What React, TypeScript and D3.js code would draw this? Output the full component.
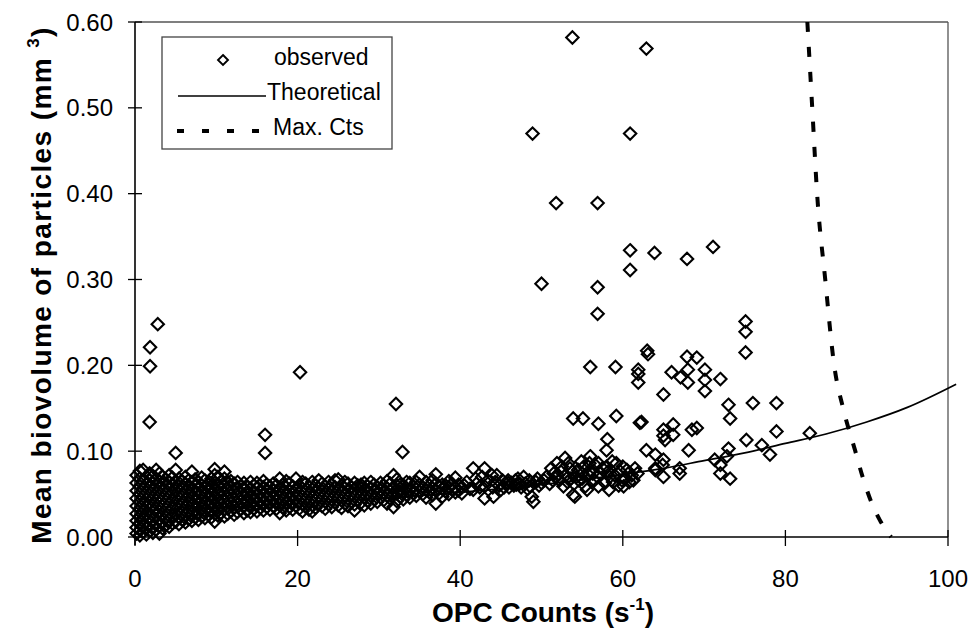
import React from 'react';
import * as d3 from 'd3';

// ---------- data ----------
const xTicks = [0, 20, 40, 60, 80, 100];
const yTicks = [0, 0.1, 0.2, 0.3, 0.4, 0.5, 0.6];
const yTickLabels = ['0.00', '0.10', '0.20', '0.30', '0.40', '0.50', '0.60'];
const xTickLabels = ['0', '20', '40', '60', '80', '100'];

const clusterColumns: [number, number[]][] = [
  [0.2, [.004, .011, .019, .027, .036, .045, .054, .063, .072]],
  [0.6, [.002, .008, .016, .024, .033, .041, .05, .059, .068, .077]],
  [1.0, [.006, .014, .022, .03, .039, .047, .056, .065, .078]],
  [1.4, [.003, .01, .018, .027, .035, .044, .052, .061, .07]],
  [1.8, [.007, .015, .023, .032, .04, .049, .058, .066, .074]],
  [2.2, [.005, .012, .02, .029, .037, .046, .055, .063, .071]],
  [2.6, [.009, .017, .026, .034, .043, .051, .06, .068, .078]],
  [3.0, [.004, .013, .021, .03, .039, .048, .057, .065, .074]],
  [3.4, [.01, .018, .027, .036, .045, .054, .062, .07]],
  [3.8, [.014, .023, .032, .041, .05, .059, .067]],
  [4.2, [.012, .02, .029, .038, .047, .056, .064, .072]],
  [4.6, [.016, .025, .034, .043, .052, .061, .069]],
  [5.0, [.018, .027, .036, .045, .054, .063, .078]],
  [5.4, [.015, .023, .032, .041, .05, .059, .068]],
  [5.8, [.02, .029, .038, .047, .056, .065]],
  [6.2, [.017, .026, .035, .044, .053, .062, .07]],
  [6.6, [.021, .03, .039, .048, .057, .066]],
  [7.0, [.019, .028, .037, .046, .055, .064, .076]],
  [7.4, [.023, .032, .041, .05, .059, .067]],
  [7.8, [.02, .029, .038, .047, .056, .064]],
  [8.2, [.024, .033, .042, .051, .06, .069]],
  [8.6, [.022, .031, .04, .049, .058, .066]],
  [9.0, [.026, .035, .044, .053, .061]],
  [9.4, [.023, .032, .041, .05, .059, .068]],
  [9.8, [.018, .027, .036, .045, .054, .063, .072, .079]],
  [10.2, [.025, .034, .043, .052, .061, .07]],
  [10.6, [.028, .037, .046, .055, .064]],
  [11.0, [.024, .033, .042, .051, .06, .068, .076]],
  [11.4, [.027, .036, .045, .054, .063]],
  [11.8, [.03, .039, .048, .057, .065]],
  [12.2, [.026, .035, .044, .053, .062]],
  [12.6, [.029, .038, .047, .056, .064]],
  [13.0, [.032, .041, .05, .059]],
  [13.4, [.028, .037, .046, .055, .063]],
  [13.8, [.031, .04, .049, .058]],
  [14.2, [.029, .038, .047, .056, .064]],
  [14.6, [.033, .042, .051, .06]],
  [15.0, [.03, .039, .048, .057, .063]],
  [15.4, [.034, .043, .052, .06]],
  [15.8, [.031, .04, .049, .058, .065]],
  [16.2, [.035, .044, .053, .061]],
  [16.6, [.032, .041, .05, .059]],
  [17.0, [.036, .045, .054, .062]],
  [17.4, [.033, .042, .051, .06]],
  [17.8, [.028, .037, .046, .055, .068]],
  [18.2, [.034, .043, .052, .061]],
  [18.6, [.031, .04, .049, .058, .065]],
  [19.0, [.035, .044, .053, .062]],
  [19.4, [.032, .041, .05, .059]],
  [19.8, [.036, .045, .054, .068]],
  [20.2, [.033, .042, .051, .06]],
  [20.6, [.03, .038, .047, .056, .064]],
  [21.0, [.035, .044, .053, .062]],
  [21.4, [.032, .041, .05, .059]],
  [21.8, [.03, .037, .046, .055, .064]],
  [22.2, [.034, .043, .052, .06]],
  [22.6, [.039, .048, .057, .066]],
  [23.0, [.036, .045, .054, .062]],
  [23.4, [.033, .041, .05, .059]],
  [23.8, [.038, .047, .056, .064]],
  [24.2, [.035, .044, .053, .061]],
  [24.6, [.04, .049, .058, .066]],
  [25.0, [.037, .046, .055, .067]],
  [25.4, [.034, .043, .052, .06]],
  [25.8, [.039, .048, .057, .064]],
  [26.2, [.036, .045, .054, .062]],
  [26.6, [.041, .05, .058]],
  [27.0, [.031, .038, .047, .056, .063]],
  [27.4, [.043, .052, .06]],
  [27.8, [.04, .049, .058, .061]],
  [28.2, [.037, .046, .055, .063]],
  [28.6, [.042, .051, .059]],
  [29.0, [.039, .048, .057, .064]],
  [29.4, [.044, .053, .061]],
  [29.8, [.041, .05, .058]],
  [30.2, [.046, .055, .063]],
  [30.6, [.043, .052, .06]],
  [31.0, [.039, .048, .057, .065]],
  [31.4, [.045, .054, .062]],
  [31.8, [.035, .05, .058, .072]],
  [32.2, [.042, .051, .06, .067]],
  [32.6, [.047, .053, .061]],
  [33.0, [.044, .052, .06]],
  [33.4, [.049, .057, .064]],
  [33.8, [.046, .055, .063]],
  [34.2, [.051, .059]],
  [34.6, [.048, .056, .064]],
  [35.0, [.053, .061, .07]],
  [35.4, [.05, .058]],
  [35.8, [.046, .055, .064]],
  [36.2, [.052, .06]],
  [36.6, [.049, .057, .066]],
  [37.0, [.039, .054, .062, .073]],
  [37.4, [.051, .059]],
  [37.8, [.047, .056, .061]],
  [38.2, [.053, .06]],
  [38.6, [.05, .058, .065]],
  [39.0, [.055, .062]],
  [39.4, [.052, .057, .069]],
  [39.8, [.054, .061]],
  [40.2, [.051, .058]],
];

// individually visible observations [count, biovolume]
const observedPoints: [number, number][] = [
  // left outliers
  [1.85, .221], [1.85, .199], [2.8, .248], [1.8, .134], [5.0, .098],
  [16.0, .119], [16.0, .098], [20.3, .192], [32.1, .155], [32.9, .099],
  // 40-50
  [40.5, .060], [40.8, .064], [41.2, .056], [41.6, .080], [41.6, .055], [41.9, .068],
  [42.0, .062], [42.4, .058], [42.7, .070], [43.0, .080], [43.0, .059], [43.0, .045],
  [43.4, .066], [43.9, .072], [44.0, .058], [44.1, .047], [44.3, .064], [44.5, .072],
  [44.8, .060], [45.0, .055], [45.2, .066], [45.4, .058], [45.9, .063], [45.9, .066],
  [46.0, .058], [46.3, .063], [46.6, .060], [46.8, .066], [46.9, .061], [47.1, .068],
  [47.3, .062], [47.5, .058], [47.8, .070], [48.0, .062], [48.3, .056], [48.5, .066],
  [48.6, .059], [48.8, .047], [49.0, .041], [49.3, .064], [49.5, .068], [49.7, .060],
  [50.0, .063],
  // 50-62 cluster
  [50.3, .066], [50.6, .070], [51.0, .062], [51.4, .066], [51.5, .074], [51.8, .070],
  [51.9, .086], [52.0, .072], [52.5, .082], [52.9, .092], [53.3, .086], [53.5, .080],
  [53.6, .068], [53.8, .076], [54.3, .070], [54.6, .066], [54.9, .088], [55.0, .074],
  [55.2, .082], [55.9, .086], [56.0, .078], [56.3, .074], [56.9, .070], [57.0, .086],
  [57.2, .074], [57.5, .080], [58.0, .082], [58.2, .076], [58.4, .070], [58.7, .088],
  [59.0, .072], [59.2, .086], [59.7, .076], [59.9, .066], [60.3, .068], [60.5, .078],
  [61.1, .072], [61.3, .066], [61.8, .074], [60.1, .059], [57.8, .063], [57.0, .059],
  [55.4, .059], [52.7, .059], [53.9, .049], [52.2, .066], [53.0, .072], [54.0, .062],
  [55.0, .068], [55.8, .072], [56.5, .066], [58.8, .064], [59.5, .060], [60.8, .064],
  [61.5, .080], [60.0, .082], [56.6, .084], [54.5, .078], [52.4, .076], [51.2, .080],
  [53.2, .064], [55.6, .055], [58.3, .055], [54.1, .047],
  // mid range 0.07-0.17
  [53.9, .138], [55.1, .138], [57.0, .132], [59.2, .141], [62.1, .133], [62.3, .134],
  [58.1, .114], [58.0, .101], [56.0, .094], [62.9, .101], [64.0, .096], [65.0, .090],
  [64.0, .080], [65.0, .070], [64.9, .084], [64.0, .078], [65.0, .125], [66.2, .131],
  [66.2, .119], [65.0, .118], [65.2, .113], [68.5, .125], [69.1, .127], [68.1, .101],
  [67.0, .080], [67.0, .074], [71.3, .090], [72.0, .084], [72.0, .074], [73.0, .103],
  [73.2, .068], [72.8, .094], [75.2, .113], [77.1, .107], [78.1, .096], [76.0, .156],
  [78.9, .156], [78.9, .123], [83.0, .121], [73.0, .154], [73.2, .138], [65.0, .166],
  // upper cloud
  [53.8, .582], [62.9, .569], [48.9, .470], [60.9, .470], [51.8, .389], [56.9, .389],
  [60.9, .334], [63.9, .331], [67.9, .324], [71.1, .338], [60.9, .311], [50.0, .295],
  [56.9, .291], [56.9, .260], [75.1, .251], [75.1, .239], [75.1, .215], [63.0, .217],
  [63.1, .213], [56.0, .198], [59.1, .198], [61.9, .195], [61.9, .190], [61.9, .180],
  [67.9, .210], [69.1, .209], [66.0, .192], [68.0, .195], [70.1, .195], [67.1, .186],
  [68.0, .180], [70.1, .183], [72.0, .184], [70.1, .170],
];

const theoreticalX = [0, 10, 20, 30, 40, 50, 60, 65, 70, 75, 80, 85, 90, 95, 101];
const theoreticalY = [0.030, 0.034, 0.039, 0.045, 0.052, 0.061, 0.073, 0.080, 0.089, 0.098, 0.109, 0.120, 0.134, 0.151, 0.178];

const maxCtsX = [82.7, 83.3, 83.9, 84.9, 86.0, 87.1, 88.6, 89.5, 90.6, 91.6, 93.0];
const maxCtsY = [0.60, 0.50, 0.40, 0.30, 0.20, 0.15, 0.10, 0.07, 0.04, 0.02, 0.0];

const legendLabels = ['observed', 'Theoretical', 'Max. Cts'];

// ---------- chart ----------
const FONT = "'Liberation Sans', Arial, sans-serif";

function diamond(cx: number, cy: number, r: number) {
  return `M${cx},${cy - r}L${cx + r},${cy}L${cx},${cy + r}L${cx - r},${cy}Z`;
}

export default function App() {
  const x = d3.scaleLinear().domain([0, 100]).range([135, 948]);
  const y = d3.scaleLinear().domain([0, 0.6]).range([537, 22]);

  const observed: [number, number][] = [
    ...clusterColumns.flatMap(([cx, ys]) => ys.map((v) => [cx, v] as [number, number])),
    ...observedPoints,
  ];

  const line = d3
    .line<[number, number]>()
    .x((d) => x(d[0]))
    .y((d) => y(d[1]))
    .curve(d3.curveMonotoneX);

  const theo = theoreticalX.map((v, i) => [v, theoreticalY[i]] as [number, number]);
  const maxc = maxCtsX.map((v, i) => [v, maxCtsY[i]] as [number, number]);

  const [x0, x1] = x.range();
  const [yb, yt] = y.range();

  return (
    <svg
      width={975}
      height={634}
      style={{ position: 'absolute', left: 0, top: 0, background: '#fff' }}
      fontFamily={FONT}
    >
      <rect x={0} y={0} width={975} height={634} fill="#fff" />
      {/* frame */}
      <line x1={x0} x2={x1} y1={yt} y2={yt} stroke="#555" strokeWidth={1.3} />
      <line x1={x1} x2={x1} y1={yt} y2={yb} stroke="#555" strokeWidth={1.3} />

      {/* observed */}
      <g fill="none" stroke="#000" strokeWidth={2.1}>
        {observed.map((d, i) => (
          <path key={i} d={diamond(x(d[0]), y(d[1]), 6.2)} />
        ))}
      </g>

      {/* theoretical */}
      <path d={line(theo) || ''} fill="none" stroke="#000" strokeWidth={1.7} />
      {/* max counts */}
      <path d={line(maxc) || ''} fill="none" stroke="#000" strokeWidth={4} strokeDasharray="10 15" />

      {/* axes */}
      <line x1={x0} x2={x0} y1={yt} y2={yb + 8} stroke="#000" strokeWidth={1.6} />
      <line x1={x0 - 2} x2={x1} y1={yb} y2={yb} stroke="#000" strokeWidth={1.6} />
      {yTicks.map((t, i) => (
        <g key={'y' + i}>
          <line x1={x0 - 7} x2={x0 + 7} y1={y(t)} y2={y(t)} stroke="#000" strokeWidth={1.3} />
          <text x={113} y={y(t)} dy="0.36em" textAnchor="end" fontSize={24} fill="#000">
            {yTickLabels[i]}
          </text>
        </g>
      ))}
      {xTicks.map((t, i) => (
        <g key={'x' + i}>
          <line x1={x(t)} x2={x(t)} y1={yb - 7} y2={yb + 9} stroke="#000" strokeWidth={1.3} />
          <text x={x(t)} y={587} textAnchor="middle" fontSize={24} fill="#000">
            {xTickLabels[i]}
          </text>
        </g>
      ))}

      {/* axis titles */}
      <text x={543} y={622} textAnchor="middle" fontSize={28} fontWeight="bold" fill="#000">
        OPC Counts (s
        <tspan fontSize={17} dy={-12}>-1</tspan>
        <tspan dy={12}>)</tspan>
      </text>
      <text
        transform="translate(51,285) rotate(-90)"
        textAnchor="middle"
        fontSize={28}
        fontWeight="bold"
        letterSpacing={1.4}
        fill="#000"
      >
        Mean biovolume of particles (mm{' '}
        <tspan fontSize={17} dy={-12}>3</tspan>
        <tspan dy={12}>)</tspan>
      </text>

      {/* legend */}
      <rect x={162} y={37} width={230} height={112} fill="#fff" stroke="#444" strokeWidth={1.3} />
      <path d={diamond(223, 60, 5)} fill="none" stroke="#000" strokeWidth={1.9} />
      <line x1={178} x2={266} y1={96} y2={96} stroke="#000" strokeWidth={1.6} />
      <line x1={177} x2={266} y1={131} y2={131} stroke="#000" strokeWidth={4} strokeDasharray="7 18" />
      <text x={274} y={65} fontSize={23} fill="#000">{legendLabels[0]}</text>
      <text x={267} y={100} fontSize={23} fill="#000">{legendLabels[1]}</text>
      <text x={273} y={135} fontSize={23} fill="#000">{legendLabels[2]}</text>
    </svg>
  );
}
